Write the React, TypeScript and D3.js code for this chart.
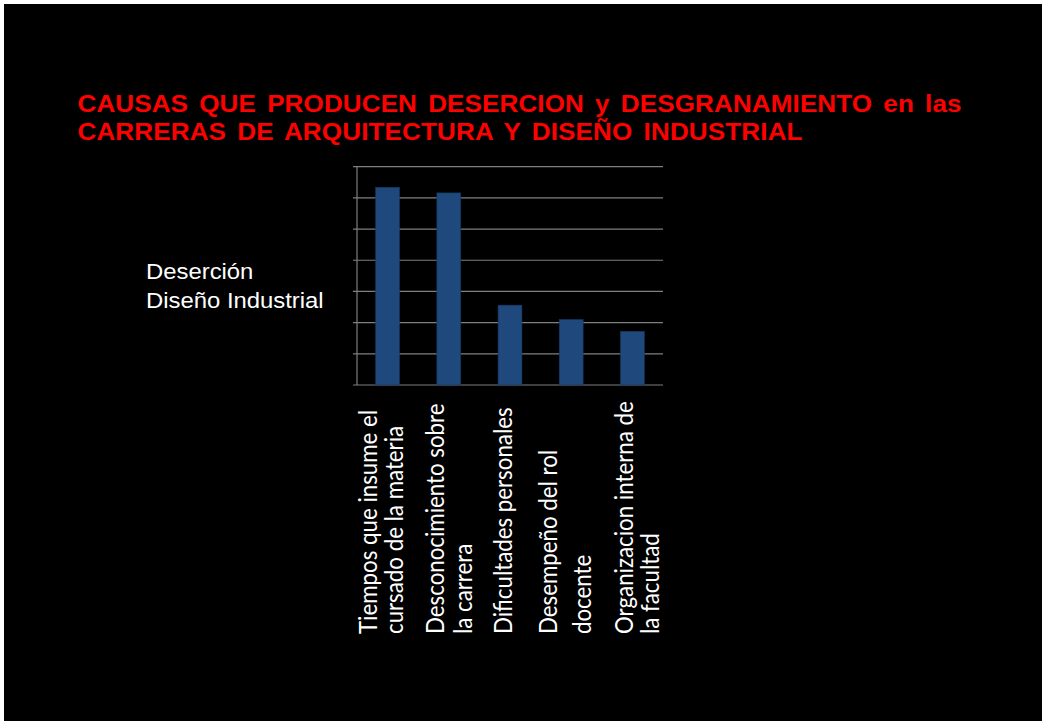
import React, { useEffect } from "react";
import * as d3 from "d3";

const categories = ["c1", "c2", "c3", "c4", "c5"];
const labelLines: string[][] = [
  ["Tiempos que insume el", "cursado de la materia"],
  ["Desconocimiento sobre", "la carrera"],
  ["Dificultades personales"],
  ["Desempeño del rol", "docente"],
  ["Organizacion interna de", "la facultad"],
];
const values = [31.7, 30.8, 12.8, 10.5, 8.6];
const yTicks = [0, 5, 10, 15, 20, 25, 30, 35];
const titleLines = [
  "CAUSAS QUE PRODUCEN DESERCION y DESGRANAMIENTO en las",
  "CARRERAS DE ARQUITECTURA Y DISEÑO INDUSTRIAL",
];
const sideLines = ["Deserción", "Diseño Industrial"];

// layout (not data): per-label baseline offsets relative to band centre
const labelOffsets: number[][] = [
  [-10.8, 15.8],
  [-4.5, 23.2],
  [1.7],
  [-14.2, 20.2],
  [0.5, 26.5],
];

const SX = 1.085; // horizontal stretch of the original slide

export default function App() {
  useEffect(() => {
    document.body.style.margin = "0";
    document.body.style.background = "#fff";
  }, []);

  const W = 1042, H = 721;
  const x = d3.scaleBand<string>().domain(categories).range([357, 663]).paddingInner(0.61).paddingOuter(0.305);
  const y = d3.scaleLinear().domain([0, 35]).range([385, 166.7]);

  return (
    <svg width={W} height={H} style={{ display: "block" }}>
      <rect x={0} y={0} width={W} height={H} fill="#ffffff" />
      <rect x={4} y={4} width={W - 4} height={H - 4} fill="#000000" />
      <g
        transform={`translate(77.5,0) scale(${SX},1)`}
        fontFamily="'Liberation Sans', Arial, sans-serif"
        fontWeight="bold"
        fontSize={24}
        fill="#ff0000"
        style={{ wordSpacing: "3.5px" }}
      >
        <text x={0} y={111.7} textLength={884 / SX} lengthAdjust="spacing">{titleLines[0]}</text>
        <text x={0} y={140} textLength={725 / SX} lengthAdjust="spacing">{titleLines[1]}</text>
      </g>
      <g transform={`translate(146,0) scale(${SX},1)`} fontFamily="'Liberation Sans', Arial, sans-serif" fontSize={22} fill="#ffffff">
        {sideLines.map((s, i) => (
          <text key={i} x={0} y={279.3 + i * 28.4}>{s}</text>
        ))}
      </g>
      <g>
        {yTicks.map((t) => (
          <line key={t} x1={353} x2={663} y1={y(t)} y2={y(t)} stroke="#7f7f7f" strokeWidth={1.2} />
        ))}
        <line x1={357} x2={357} y1={y(35)} y2={y(0)} stroke="#7f7f7f" strokeWidth={1.2} />
      </g>
      <g>
        {categories.map((c, i) => (
          <rect
            key={c}
            x={x(c)}
            y={y(values[i])}
            width={x.bandwidth()}
            height={y(0) - y(values[i])}
            fill="#1f497d"
            stroke="#17375e"
            strokeWidth={0.6}
          />
        ))}
      </g>
      <g fontFamily="Lato, 'Open Sans', sans-serif" fontSize={22.3} fill="#ffffff">
        {categories.map((c, i) => {
          const cx = (x(c) as number) + x.bandwidth() / 2;
          return labelLines[i].map((line, j) => (
            <text
              key={c + j}
              transform={`translate(${cx + labelOffsets[i][j]},634) scale(${SX},1) rotate(-90)`}
              textAnchor="start"
            >
              {line}
            </text>
          ));
        })}
      </g>
    </svg>
  );
}
